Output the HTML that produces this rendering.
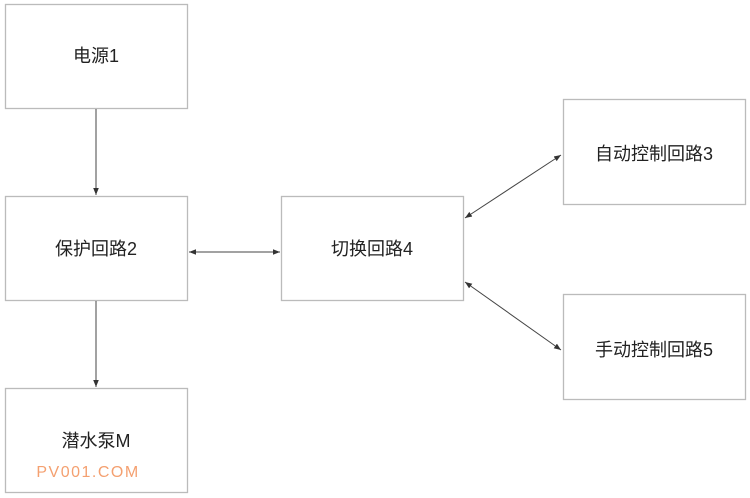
<!DOCTYPE html>
<html><head><meta charset="utf-8"><style>
html,body{margin:0;padding:0;background:#fff;}
svg{display:block;}
text{font-family:"Liberation Sans","Noto Sans CJK SC",sans-serif;font-size:18px;fill:#222;}
</style></head><body>
<svg width="750" height="498" viewBox="0 0 750 498" xmlns="http://www.w3.org/2000/svg">
<defs>
<marker id="a" viewBox="0 0 10 10" refX="10" refY="5" markerWidth="7" markerHeight="7" orient="auto-start-reverse"><path d="M0,1 L10,5 L0,9 z" fill="#333"/></marker>
</defs>
<g fill="#fff" stroke="#bbb" stroke-width="1.3">
<rect x="5.5" y="4.5" width="182" height="104"/>
<rect x="5.5" y="196.5" width="182" height="104"/>
<rect x="5.5" y="388.5" width="182" height="104"/>
<rect x="281.5" y="196.5" width="182" height="104"/>
<rect x="563.5" y="99.5" width="182" height="105"/>
<rect x="563.5" y="294.5" width="182" height="105"/>
</g>
<g stroke="#444" stroke-width="1" fill="none">
<line x1="96" y1="109" x2="96" y2="195" marker-end="url(#a)"/>
<line x1="96" y1="301" x2="96" y2="387" marker-end="url(#a)"/>
<line x1="189" y1="252" x2="280" y2="252" marker-start="url(#a)" marker-end="url(#a)"/>
<line x1="465" y1="218" x2="561" y2="155" marker-start="url(#a)" marker-end="url(#a)"/>
<line x1="465" y1="282" x2="561" y2="350" marker-start="url(#a)" marker-end="url(#a)"/>
</g>
<text x="96" y="62" text-anchor="middle">电源1</text>
<text x="96" y="255" text-anchor="middle">保护回路2</text>
<text x="96" y="447" text-anchor="middle">潜水泵M</text>
<text x="372" y="255" text-anchor="middle">切换回路4</text>
<text x="654" y="160" text-anchor="middle">自动控制回路3</text>
<text x="654" y="356" text-anchor="middle">手动控制回路5</text>
<text x="88" y="477" text-anchor="middle" style="fill:#f4a070;font-size:16px;letter-spacing:1.5px">PV001.COM</text>
</svg>
</body></html>
